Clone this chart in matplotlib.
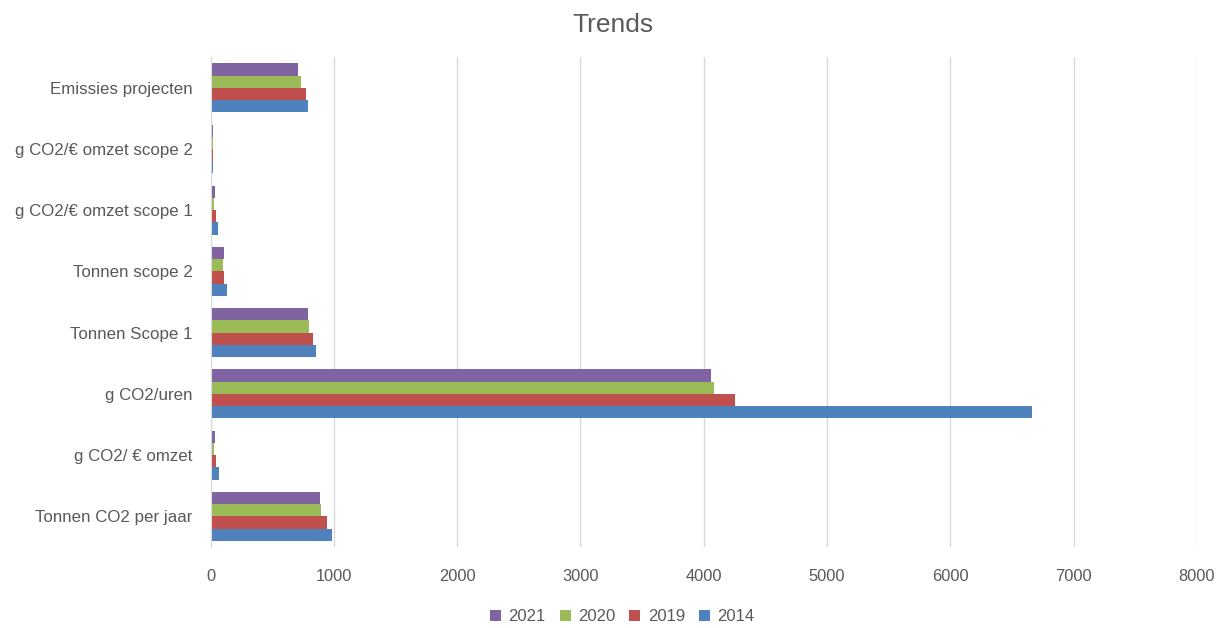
import matplotlib
matplotlib.use('Agg')
import matplotlib.pyplot as plt
import numpy as np

plt.rcParams['font.family'] = ['Liberation Sans', 'DejaVu Sans']

categories = ['Tonnen CO2 per jaar', 'g CO2/ € omzet', 'g CO2/uren', 'Tonnen Scope 1',
              'Tonnen scope 2', 'g CO2/€ omzet scope 1', 'g CO2/€ omzet scope 2',
              'Emissies projecten']
years = ['2021', '2020', '2019', '2014']
v2021 = [889, 31, 4058, 787, 108, 32, 20, 708]
v2020 = [892, 28, 4085, 795, 97, 30, 19, 733]
v2019 = [943, 46, 4252, 827, 108, 46, 20, 773]
v2014 = [984, 70, 6661, 852, 133, 60, 21, 787]
colors = ['#8064A2', '#9BBB59', '#C0504D', '#4F81BD']

series = [v2021, v2020, v2019, v2014]

fig = plt.figure(figsize=(12.25, 6.28), dpi=100)
ax = fig.add_axes([0.172, 0.129, 0.805, 0.78])

y = np.arange(len(categories))
h = 0.2
offsets = [1.5 * h, 0.5 * h, -0.5 * h, -1.5 * h]
for vals, col, lab, off in zip(series, colors, years, offsets):
    ax.barh(y + off, vals, height=h, color=col, label=lab, zorder=3)

ax.set_xlim(0, 8000)
ax.set_ylim(-0.5, len(categories) - 0.5)
ax.set_xticks(range(0, 8001, 1000))
ax.set_yticks(y)
ax.set_yticklabels(categories)
ax.tick_params(axis='y', length=0, labelsize=12.2, colors='#595959', pad=13)
ax.tick_params(axis='x', length=0, labelsize=11.8, colors='#595959', pad=16)
ax.grid(axis='x', color='#D9D9D9', linewidth=1, zorder=0)
for s in ['top', 'right', 'bottom']:
    ax.spines[s].set_visible(False)
ax.spines['left'].set_color('#D9D9D9')
ax.spines['left'].set_zorder(4)

fig.suptitle('Trends', y=0.98, fontsize=19, color='#595959')
fig.legend(loc='lower center', ncol=4, frameon=False, fontsize=12,
           bbox_to_anchor=(0.508, -0.018), handlelength=0.65, handleheight=0.65,
           labelcolor='#595959', columnspacing=0.85, handletextpad=0.45)

fig.savefig('out.png', dpi=100)
